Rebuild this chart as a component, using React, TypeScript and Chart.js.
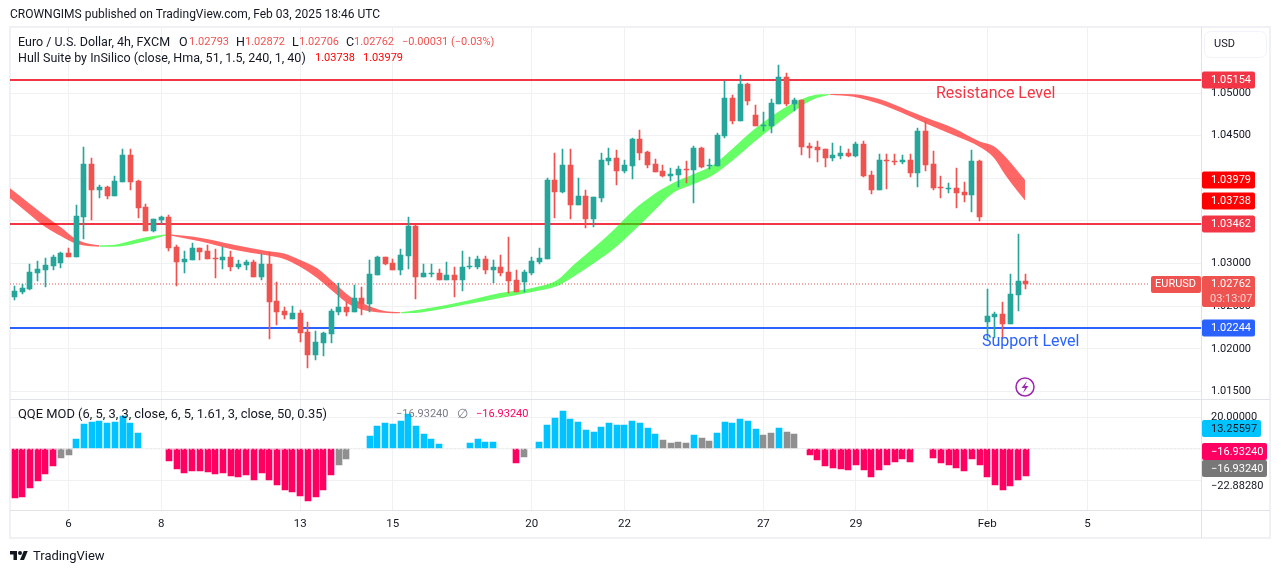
import React, { useEffect, useRef } from "react";
import { Chart, registerables } from "chart.js";

Chart.register(...registerables);

const opens = [1.02608,1.02667,1.02701,1.02889,1.02924,1.02971,1.03006,1.03124,1.03077,1.03546,
1.04167,1.03863,1.03898,1.03793,1.03957,1.04273,1.03968,1.03663,1.03381,1.03511,
1.03546,1.03194,1.03018,1.03041,1.03182,1.03147,1.03065,1.03041,1.03077,1.02959,
1.02982,1.03018,1.02842,1.02994,1.02561,1.02443,1.02350,1.02420,1.02197,1.01927,
1.02068,1.02173,1.02432,1.02490,1.02432,1.02596,1.02526,1.02865,1.03077,1.03006,
1.02924,1.03088,1.03440,1.02842,1.02877,1.02889,1.02807,1.02865,1.02807,1.02959,
1.02959,1.03053,1.02924,1.02959,1.02901,1.02807,1.02784,1.02889,1.03018,1.03053,
1.03980,1.03839,1.04155,1.03686,1.03793,1.03523,1.03769,1.04202,1.04238,1.04085,
1.04144,1.04461,1.04308,1.04167,1.04085,1.04027,1.04038,1.04109,1.04097,1.04355,
1.04144,1.04144,1.04496,1.04941,1.04672,1.05106,1.04742,1.04613,1.04613,1.04871,
1.05188,1.04871,1.04918,1.04379,1.04367,1.04344,1.04238,1.04261,1.04297,1.04261,
1.04402,1.04038,1.03863,1.04214,1.04202,1.04191,1.04214,1.04062,1.04554,1.04167,
1.03898,1.03875,1.03886,1.03839,1.03804,1.04202,1.02314,1.02373,1.02408,1.02291,
1.02631,1.02793];

const closes = [1.02678,1.02713,1.02901,1.02936,1.02982,1.03077,1.03124,1.03077,1.03558,1.04167,
1.03863,1.03898,1.03793,1.03968,1.04273,1.03957,1.03651,1.03381,1.03523,1.03546,
1.03182,1.03018,1.03053,1.03182,1.03135,1.03053,1.03053,1.03077,1.02959,1.02994,
1.03018,1.02842,1.02994,1.02549,1.02432,1.02396,1.02420,1.02185,1.01927,1.02080,
1.02185,1.02443,1.02490,1.02432,1.02596,1.02526,1.02877,1.03077,1.02994,1.02924,
1.03100,1.03440,1.02842,1.02889,1.02889,1.02807,1.02865,1.02807,1.02959,1.02971,
1.03053,1.02924,1.02959,1.02889,1.02795,1.02667,1.02901,1.03029,1.03065,1.03980,
1.03839,1.04155,1.03686,1.03793,1.03523,1.03781,1.04214,1.04238,1.04085,1.04155,
1.04461,1.04297,1.04155,1.04073,1.04027,1.04050,1.04109,1.04097,1.04355,1.04132,
1.04155,1.04507,1.04941,1.04672,1.05106,1.04906,1.04613,1.04625,1.04883,1.05188,
1.04871,1.04918,1.04367,1.04355,1.04332,1.04238,1.04273,1.04297,1.04261,1.04402,
1.04027,1.03863,1.04214,1.04202,1.04191,1.04214,1.04062,1.04554,1.04155,1.03886,
1.03886,1.03886,1.03828,1.03804,1.04202,1.03546,1.02385,1.02408,1.02291,1.02643,
1.02793,1.02762];

const highs = [1.02737,1.02760,1.02994,1.03029,1.03065,1.03100,1.03135,1.03182,1.03686,1.04367,
1.04238,1.03921,1.03910,1.04027,1.04344,1.04344,1.03980,1.03698,1.03523,1.03558,
1.03569,1.03217,1.03147,1.03241,1.03182,1.03217,1.03171,1.03194,1.03147,1.03041,
1.03041,1.03041,1.03112,1.03135,1.02784,1.02490,1.02502,1.02455,1.02314,1.02208,
1.02197,1.02467,1.02772,1.02549,1.02749,1.02725,1.03041,1.03088,1.03077,1.03053,
1.03171,1.03546,1.03452,1.02994,1.02994,1.02936,1.03018,1.02959,1.03147,1.03077,
1.03088,1.03088,1.03041,1.03100,1.03311,1.02924,1.02924,1.03077,1.03182,1.04003,
1.04297,1.04344,1.04344,1.04003,1.03863,1.03781,1.04297,1.04355,1.04332,1.04214,
1.04473,1.04566,1.04320,1.04226,1.04155,1.04120,1.04144,1.04202,1.04379,1.04367,
1.04226,1.04531,1.05141,1.04976,1.05211,1.05118,1.04859,1.04777,1.04930,1.05328,
1.05235,1.04941,1.04918,1.04414,1.04437,1.04344,1.04414,1.04379,1.04344,1.04426,
1.04437,1.04085,1.04285,1.04285,1.04285,1.04273,1.04285,1.04589,1.04672,1.04320,
1.04027,1.03945,1.04120,1.03957,1.04332,1.04214,1.02701,1.02432,1.02549,1.02877,
1.03346,1.02872];

const lows = [1.02572,1.02643,1.02690,1.02795,1.02725,1.02924,1.02947,1.03077,1.03077,1.03288,
1.03511,1.03769,1.03757,1.03793,1.03957,1.03863,1.03534,1.03381,1.03370,1.03464,
1.03147,1.02737,1.02889,1.03041,1.03041,1.03053,1.02830,1.02936,1.02912,1.02936,
1.02924,1.02842,1.02807,1.02115,1.02279,1.02350,1.02350,1.02080,1.01774,1.01868,
1.01915,1.02068,1.02396,1.02385,1.02432,1.02396,1.02432,1.02865,1.02982,1.02924,
1.02865,1.02936,1.02584,1.02842,1.02842,1.02807,1.02807,1.02608,1.02678,1.02936,
1.02936,1.02877,1.02772,1.02854,1.02655,1.02667,1.02667,1.02865,1.02994,1.03053,
1.03534,1.03828,1.03523,1.03686,1.03417,1.03428,1.03722,1.04155,1.03921,1.04062,
1.03992,1.04214,1.04120,1.04073,1.04015,1.03968,1.03898,1.03945,1.03710,1.04120,
1.04109,1.04144,1.04473,1.04637,1.04672,1.04859,1.04613,1.04554,1.04531,1.04871,
1.04848,1.04789,1.04273,1.04238,1.04191,1.04132,1.04202,1.04226,1.04250,1.04250,
1.04015,1.03816,1.03863,1.03875,1.04155,1.04167,1.04015,1.03898,1.04085,1.03863,
1.03769,1.03828,1.03651,1.03722,1.03604,1.03499,1.02103,1.02127,1.02127,1.02291,
1.02443,1.02706];

// Hull Suite band: [bar index, upper, lower], one list per trend segment
const hullRed1 = [[-0.58,1.03882,1.03765],[2,1.03698,1.03572],[4,1.03558,1.03428],[6,1.03425,1.03323],[8,1.03284,1.03232],[10,1.03225,1.03202],[11,1.03213,1.03197]];
const hullGreen1 = [[11,1.03213,1.03197],[13,1.03221,1.03197],[15,1.03264,1.03221],[17,1.03307,1.03260],[19,1.03334,1.03315],[20,1.03343,1.03331]];
const hullRed2 = [[20,1.03343,1.03331],[24,1.03303,1.03260],[28.4,1.03221,1.03162],[32.7,1.03147,1.03096],[34.8,1.03120,1.03056],[37,1.03041,1.02962],[39.2,1.02944,1.02830],[41.3,1.02783,1.02669],[43.5,1.02610,1.02513],[45.6,1.02513,1.02446],[47.8,1.02446,1.02423],[50,1.02428,1.02416]];
const hullGreen2 = [[50,1.02428,1.02416],[52.6,1.02460,1.02425],[58.6,1.02563,1.02521],[62.9,1.02654,1.02595],[67.2,1.02716,1.02669],[70.3,1.02806,1.02736],[72.4,1.02982,1.02845],[75,1.03182,1.03000],[77.6,1.03393,1.03170],[80.2,1.03628,1.03385],[82.7,1.03804,1.03604],[85.3,1.03944,1.03827],[88,1.04050,1.03933],[90.5,1.04156,1.04038],[93.1,1.04355,1.04214],[95.7,1.04566,1.04417],[98.3,1.04742,1.04605],[100.9,1.04883,1.04781],[103.5,1.04973,1.04926],[105.6,1.04988,1.04980]];
const hullRed3 = [[105.6,1.04988,1.04980],[108.7,1.04985,1.04957],[112.1,1.04926,1.04871],[115.6,1.04801,1.04742],[118.2,1.04707,1.04636],[121.6,1.04589,1.04507],[125.1,1.04429,1.04363],[126.8,1.04378,1.04246],[128.5,1.04238,1.04018],[130.9,1.03979,1.03738]];

const qqeValues = [-30.4,-29.8,-24.2,-19.8,-15.4,-10.4,-5.4,-3.5,6.5,15.8,17.1,17.7,16.5,17.1,20.8,16.5,10.2,null,null,null,
-7.3,-12.3,-14.8,-13.5,-13.5,-14.2,-15.4,-14.8,-16.7,-17.3,-16,-19.2,-14.8,-19.2,-22.3,-25.4,-26.7,-29.2,-32.3,-29.8,-25.4,-16,-9.8,-6,null,null,
8.3,14.6,16.5,15.8,17.7,22.1,14.6,9.6,6.5,3.3,null,null,null,4,6.5,4.6,4.6,null,null,-8.5,-4.8,null,
4.6,15.2,19.6,24,19,17.1,12.1,10.8,14,16.5,15.2,15.2,17.7,16.5,13.3,9.6,5.8,4,4.6,4,9,7.1,5.2,10.2,17.1,16.5,19,17.7,12.7,9,10.2,13.3,10.8,9.6,null,
-3.7,-6.9,-10.6,-11.9,-12.5,-13.1,-10,-13.1,-17.5,-13.1,-10,-8.1,-6.3,-8.1,null,null,
-5.6,-8.8,-10,-11.9,-13.8,-6.3,-10,-17.5,-22.5,-25.6,-23.1,-19.4,-16.93];
// p = pink, b = blue, g = gray, - = no bar
const qqeKinds = "ppppppggbbbbbbbbb---pppppppppppppppppppppp" + "gg--bbbbbbbbbb---bbbb--pg-bbbbbbbbbbbbbbbb" + "ggggbggbbbbbbggbgg-pppppppppppppp--ppppppppppppp";

const priceTicks = [1.015, 1.02, 1.025, 1.03, 1.035, 1.04, 1.045, 1.05];
const qqeTicks = [-20, 0, 20];
const dayTickBars = [7, 19, 37, 49, 67, 79, 97, 109, 126, 139];
const dayTickLabels = ["6", "8", "13", "15", "20", "22", "27", "29", "Feb", "5"];

const resistanceHigh = 1.05154;
const resistanceMid = 1.03462;
const supportLevel = 1.02244;
const lastClose = 1.02762;
const hullA = 1.03738;
const hullB = 1.03979;

const FONT = "Roboto";
const GREEN = "#26a69a";
const RED = "#ef5350";
const LINE_RED = "#f23645";
const LINE_BLUE = "#2962ff";
const GRID = "#f0f1f3";
const SEP = "#e0e3eb";
const FRAME = "#f0f1f4";
const PINK = "#ff0062";
const BLUE = "#00c3ff";
const GRAY = "#8f8f8f";

const XMIN = -0.583;
const XMAX = 153.69;

function bandSets(points: number[][], color: string) {
  const base = {
    type: "line", yAxisID: "y", pointRadius: 0, borderWidth: 0,
    cubicInterpolationMode: "monotone", backgroundColor: color, order: 4,
  };
  return [
    { ...base, data: points.map((p) => ({ x: p[0], y: p[1] })), fill: "+1" },
    { ...base, data: points.map((p) => ({ x: p[0], y: p[2] })), fill: false },
  ];
}

function levelSet(value: number, color: string) {
  return {
    type: "line", yAxisID: "y", pointRadius: 0, borderWidth: 2, borderColor: color, fill: false, order: 5, snap: true,
    data: [{ x: XMIN, y: value }, { x: XMAX, y: value }],
  };
}

const INK = "#131722";
const overlays = [
  { x: 10, y: 14, s: 12, t: "CROWNGIMS published on TradingView.com, Feb 03, 2025 18:46 UTC", c: INK },
  { x: 18, y: 42, s: 12.5, t: "Euro / U.S. Dollar, 4h, FXCM", c: INK },
  { x: 179, y: 42, s: 12.5, t: "O", c: INK }, { x: 189, y: 42, s: 11, t: "1.02793", c: RED },
  { x: 236, y: 42, s: 12.5, t: "H", c: INK }, { x: 245, y: 42, s: 11, t: "1.02872", c: RED },
  { x: 292, y: 42, s: 12.5, t: "L", c: INK }, { x: 299, y: 42, s: 11, t: "1.02706", c: RED },
  { x: 346, y: 42, s: 12.5, t: "C", c: INK }, { x: 354, y: 42, s: 11, t: "1.02762", c: RED },
  { x: 402, y: 42, s: 11, t: "\u22120.00031 (\u22120.03%)", c: RED },
  { x: 18, y: 58, s: 12.5, t: "Hull Suite by InSilico (close, Hma, 51, 1.5, 240, 1, 40)", c: INK },
  { x: 315, y: 58, s: 11, t: "1.03738", c: "#ff0000" }, { x: 363, y: 58, s: 11, t: "1.03979", c: "#ff0000" },
  { x: 18, y: 414, s: 12.9, t: "QQE MOD (6, 5, 3, 3, close, 6, 5, 1.61, 3, close, 50, 0.35)", c: INK },
  { x: 396, y: 414, s: 11, t: "\u221216.93240", c: "#787b86" },
  { x: 457, y: 414, s: 12.5, t: "\u2205", c: "#787b86" },
  { x: 476, y: 414, s: 11, t: "\u221216.93240", c: PINK },
];

function rrect(ctx: any, x: number, y: number, w: number, h: number, r: number, fill: string) {
  ctx.beginPath();
  ctx.roundRect(x, y, w, h, r);
  ctx.fillStyle = fill;
  ctx.fill();
}

const snapPlugin = {
  id: "snap",
  afterDatasetsUpdate(chart: any) {
    chart.data.datasets.forEach((ds: any, i: number) => {
      const meta = chart.getDatasetMeta(i);
      if (ds.snapBar) {
        meta.data.forEach((el: any) => {
          el.x = ds.snapBar === "even" ? Math.round(el.x) : Math.round(el.x - 0.5) + 0.5;
          let top = Math.round(el.y);
          const b = Math.round(el.base);
          if (Math.abs(top - b) < 1) top = b - 1;
          el.y = top;
          el.base = b;
        });
      }
      if (ds.snap) meta.data.forEach((el: any) => { el.y = Math.round(el.y); });
    });
  },
};

const framePlugin = {
  id: "frame",
  beforeDraw(chart: any) {
    const { ctx } = chart;
    ctx.save();
    ctx.fillStyle = "#ffffff";
    ctx.fillRect(0, 0, 1281, 573);
    ctx.strokeStyle = FRAME;
    ctx.lineWidth = 2;
    ctx.strokeRect(10, 27, 1260, 511);
    ctx.restore();
  },
  afterDraw(chart: any) {
    const { ctx } = chart;
    const y = chart.scales.y;
    const q = chart.scales.q;
    ctx.save();
    ctx.fillStyle = SEP;
    ctx.fillRect(10, 399, 1260, 1);
    ctx.fillRect(10, 510, 1260, 1);
    ctx.fillRect(1201, 27, 1, 511);
    // chart annotations
    ctx.textBaseline = "middle";
    ctx.textAlign = "left";
    ctx.font = `16px ${FONT}`;
    ctx.fillStyle = LINE_RED;
    ctx.fillText("Resistance Level", 936, 94);
    ctx.fillStyle = LINE_BLUE;
    ctx.fillText("Support Level", 982, 342);
    // price tags
    const tagAt = (py: number, text: string, bg: string, fg: string, right = 1255) => {
      rrect(ctx, 1202, py - 8.5, right - 1202, 17, 2, bg);
      ctx.font = `11px ${FONT}`;
      ctx.fillStyle = fg;
      ctx.fillText(text, 1211, py + 0.5);
    };
    const tag = (scale: any, v: number, text: string, bg: string, fg: string, right = 1255) =>
      tagAt(Math.round(scale.getPixelForValue(v)), text, bg, fg, right);
    tag(y, resistanceHigh, "1.05154", LINE_RED, "#fff");
    tag(y, hullB, "1.03979", "#ff0000", "#fff");
    tag(y, hullA, "1.03738", "#ff0000", "#fff");
    tag(y, resistanceMid, "1.03462", LINE_RED, "#fff");
    tag(y, supportLevel, "1.02244", LINE_BLUE, "#fff");
    const cy = Math.round(y.getPixelForValue(lastClose));
    rrect(ctx, 1202, cy - 8, 53, 31, 2, RED);
    rrect(ctx, 1151, cy - 8, 50, 17, 2, RED);
    ctx.font = `11px ${FONT}`;
    ctx.fillStyle = "#fff";
    ctx.fillText("1.02762", 1211, cy + 0.5);
    ctx.fillText("EURUSD", 1155, cy + 0.5);
    ctx.fillStyle = "rgba(255,255,255,0.75)";
    ctx.fillText("03:13:07", 1210, cy + 15);
    // indicator tags (the last two are pushed apart as the platform does)
    tagAt(428.5, "13.25597", BLUE, INK, 1261);
    tagAt(451.5, "\u221216.93240", PINK, "#fff", 1267);
    tagAt(468.5, "\u221216.93240", "#787878", "#fff", 1267);
    ctx.fillStyle = INK;
    ctx.font = `11px ${FONT}`;
    ctx.fillText("\u221222.88280", 1211, q.getPixelForValue(-22.8828) + 0.5);
    // currency button
    ctx.beginPath();
    ctx.roundRect(1204.5, 31.5, 62, 26, 6);
    ctx.strokeStyle = "#f0f3fa";
    ctx.lineWidth = 1;
    ctx.stroke();
    ctx.fillStyle = INK;
    ctx.fillText("USD", 1214, 44);
    // marker
    ctx.beginPath();
    ctx.arc(1025, 387, 9, 0, Math.PI * 2);
    ctx.strokeStyle = "#9c27b0";
    ctx.lineWidth = 1.5;
    ctx.stroke();
    ctx.beginPath();
    ctx.moveTo(1027, 381);
    ctx.lineTo(1021.5, 388);
    ctx.lineTo(1025, 388);
    ctx.lineTo(1023, 393);
    ctx.lineTo(1028.5, 386);
    ctx.lineTo(1025, 386);
    ctx.closePath();
    ctx.fillStyle = "#9c27b0";
    ctx.fill();
    ctx.restore();
  },
};

export default function App() {
  const ref = useRef<HTMLCanvasElement | null>(null);

  useEffect(() => {
    document.body.style.margin = "0";
    const candleColors = opens.map((o, i) => (closes[i] >= o ? GREEN : RED));
    const qqeColors: string[] = [];
    const qqeData: { x: number; y: number }[] = [];
    qqeValues.forEach((v, i) => {
      if (v === null) return;
      qqeData.push({ x: i, y: v });
      const k = qqeKinds[i];
      qqeColors.push(k === "p" ? PINK : k === "b" ? BLUE : GRAY);
    });

    const chart = new Chart(ref.current as HTMLCanvasElement, {
      type: "bar",
      data: {
        datasets: [
          {
            data: opens.map((o, i) => ({ x: i, y: [o, closes[i]] })),
            backgroundColor: candleColors, yAxisID: "y", grouped: false,
            maxBarThickness: 5, barPercentage: 1, categoryPercentage: 1, order: 1, snapBar: "odd",
          },
          {
            data: opens.map((_, i) => ({ x: i, y: [lows[i], highs[i]] })),
            backgroundColor: candleColors, yAxisID: "y", grouped: false,
            maxBarThickness: 1, barPercentage: 1, categoryPercentage: 1, order: 2, snapBar: "odd",
          },
          {
            data: qqeData, backgroundColor: qqeColors, yAxisID: "q", grouped: false,
            maxBarThickness: 6, barPercentage: 1, categoryPercentage: 1, order: 2, snapBar: "even",
          },
          ...bandSets(hullRed1, "rgba(255,0,0,0.6)"),
          ...bandSets(hullGreen1, "rgba(0,255,0,0.6)"),
          ...bandSets(hullRed2, "rgba(255,0,0,0.6)"),
          ...bandSets(hullGreen2, "rgba(0,255,0,0.6)"),
          ...bandSets(hullRed3, "rgba(255,0,0,0.6)"),
          levelSet(resistanceHigh, LINE_RED),
          levelSet(resistanceMid, LINE_RED),
          levelSet(supportLevel, LINE_BLUE),
          {
            type: "line", yAxisID: "y", pointRadius: 0, borderWidth: 1, borderColor: RED, borderDash: [1, 2], fill: false, order: 6, snap: true,
            data: [{ x: XMIN, y: lastClose }, { x: 147, y: lastClose }],
          },
          {
            type: "line", yAxisID: "q", pointRadius: 0, borderWidth: 1, borderColor: "#ececec", borderDash: [2, 2], fill: false, order: 0, snap: true,
            data: [{ x: XMIN, y: 0 }, { x: XMAX, y: 0 }],
          },
        ] as any,
      },
      options: {
        animation: false,
        responsive: false,
        events: [],
        layout: { padding: { left: 10, right: 11, top: 27, bottom: 35 } },
        plugins: { legend: { display: false }, tooltip: { enabled: false }, title: { display: false } },
        scales: {
          x: {
            type: "linear", min: XMIN, max: XMAX, offset: false, position: "bottom",
            grid: { color: GRID, offset: false, drawTicks: false },
            border: { display: false },
            afterFit: (s: any) => { s.height = 28; },
            afterBuildTicks: (s: any) => { s.ticks = dayTickBars.map((v) => ({ value: v })); },
            ticks: {
              autoSkip: false, maxRotation: 0, padding: 7, color: INK, font: { family: FONT, size: 11.5 },
              callback: (v: any) => dayTickLabels[dayTickBars.indexOf(Number(v))] ?? "",
            },
          },
          y: {
            type: "linear", position: "right", stack: "panes", stackWeight: 372.5,
            min: 1.014047, max: 1.057742, offset: false,
            grid: { color: GRID, drawTicks: false },
            border: { display: false },
            afterFit: (s: any) => { s.width = 69; },
            afterBuildTicks: (s: any) => { s.ticks = priceTicks.map((v) => ({ value: v })); },
            ticks: {
              padding: 10, color: INK, font: { family: FONT, size: 11 },
              callback: (v: any) => Number(v).toFixed(5),
            },
          },
          q: {
            type: "linear", position: "right", stack: "panes", stackWeight: 110.5,
            min: -38.13, max: 30.94, offset: false,
            grid: { color: GRID, drawTicks: false },
            border: { display: false },
            afterFit: (s: any) => { s.width = 69; },
            afterBuildTicks: (s: any) => { s.ticks = qqeTicks.map((v) => ({ value: v })); },
            ticks: {
              padding: 10, color: INK, font: { family: FONT, size: 11 },
              callback: (v: any) => (Number(v) === 20 ? "20.00000" : ""),
            },
          },
        },
      } as any,
      plugins: [snapPlugin, framePlugin],
    } as any);
    return () => chart.destroy();
  }, []);

  return (
    <div style={{ position: "absolute", left: 0, top: 0, width: 1281, height: 573, overflow: "hidden", background: "#fff" }}>
      <canvas ref={ref} width={1281} height={573} style={{ display: "block" }} />
      {overlays.map((o, i) => (
        <span
          key={i}
          style={{
            position: "absolute", left: o.x, top: o.y, transform: "translateY(-50%)", color: o.c,
            font: `${o.s}px ${FONT}`, whiteSpace: "nowrap", lineHeight: "14px",
          }}
        >
          {o.t}
        </span>
      ))}
      <svg style={{ position: "absolute", left: 10, top: 549 }} width="18" height="14" viewBox="0 0 36 28">
        <path d="M14 22H7V11H0V4h14v18zM28 22h-8l7.5-18h8L28 22z" fill={INK} />
        <circle cx="20" cy="8" r="4" fill={INK} />
      </svg>
      <span style={{ position: "absolute", left: 33, top: 555, transform: "translateY(-50%)", font: `13px ${FONT}`, color: INK }}>TradingView</span>
    </div>
  );
}
